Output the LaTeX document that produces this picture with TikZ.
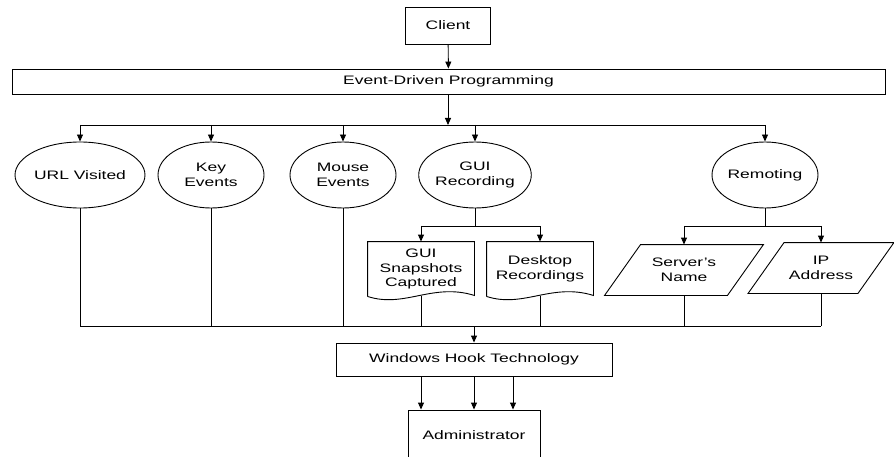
\documentclass[tikz,border=0pt]{standalone}
\usepackage{fontspec}
\setmainfont[FakeStretch=1.42]{Liberation Sans}
\usetikzlibrary{positioning}
\usetikzlibrary{shapes.geometric}
\usetikzlibrary{arrows.meta}

\begin{document}
\begin{tikzpicture}[x=1pt, y=-1pt, line width=0.9pt,
	every node/.style={font=\fontsize{12.3}{14.5}\selectfont, align=center, inner sep=0pt},
	box/.style={draw, rectangle},
	oval/.style={draw, ellipse, minimum width=106pt, minimum height=66pt},
	docu/.style={rectangle, minimum width=106pt, minimum height=54pt},
	para/.style={rectangle, minimum height=50pt},
	arr/.style={-{Triangle[length=7pt,width=6pt]}}]
	\useasboundingbox (0,0) rectangle (894,457);
	\node[box, minimum width=85pt, minimum height=37pt] (cl) at (448,25.5) {Client};
	\node[box, minimum width=873pt, minimum height=25pt] (ev) at (448.5,81.5) {Event-Driven Programming};
	\node[oval] (url) at (80,175) {URL Visited};
	\node[oval] (key) at (211,175) {Key\\Events};
	\node[oval] (mouse) at (343,175) {Mouse\\Events};
	\node[oval] (gui) at (475,175) {GUI\\Recording};
	\node[oval] (rem) at (765,175) {Remoting};
	\node[docu] (snap) at (421,269) {GUI\\Snapshots\\Captured};
	\node[docu] (desk) at (540,269) {Desktop\\Recordings};
	\node[para, minimum width=158pt] (srv) at (684,270) {Server’s\\Name};
	\node[para, minimum width=145pt] (ip) at (821,268) {IP\\Address};
	\node[box, minimum width=276pt, minimum height=33pt] (hook) at (474,359.5) {Windows Hook Technology};
	\node[box, minimum width=132pt, minimum height=50pt] (adm) at (474,435) {Administrator};
	\coordinate (top) at (448,125);
	\coordinate (bot) at (474,326);
	\coordinate (gj) at (475,226);
	\coordinate (rj) at (765,226);
	\foreach \d in {snap,desk}
		\draw (\d.south west) -- (\d.north west) -- (\d.north east) -- ([yshift=1pt]\d.south east) .. controls +(-42,-13) and +(37,12) .. (\d.south west);
	\foreach \p in {srv,ip}
		\draw (\p.south west) -- ([xshift=36pt]\p.north west) -- (\p.north east) -- ([xshift=-36pt]\p.south east) -- cycle;
	\draw[arr] (cl) -- (ev);
	\draw[arr] (ev.south -| top) -- (top);
	\draw (url.north |- top) -- (rem.north |- top);
	\foreach \e in {url,key,mouse,gui,rem}
		\draw[arr] (\e.north |- top) -- (\e.north);
	\draw (gui.south) -- (gj);
	\draw (snap.north |- gj) -- (desk.north |- gj);
	\draw[arr] (snap.north |- gj) -- (snap.north);
	\draw[arr] (desk.north |- gj) -- (desk.north);
	\draw (rem.south) -- (rj);
	\draw (srv.north |- rj) -- (ip.north |- rj);
	\draw[arr] (srv.north |- rj) -- (srv.north);
	\draw[arr] (ip.north |- rj) -- (ip.north);
	\foreach \e in {url,key,mouse,snap,desk,srv,ip}
		\draw (\e.south) -- (\e.south |- bot);
	\draw (url.south |- bot) -- (ip.south |- bot);
	\draw[arr] (bot) -- (hook.north -| bot);
	\foreach \s in {-53,0,39}
		\draw[arr] ([xshift=\s pt]hook.south) -- ([xshift=\s pt]adm.north);
\end{tikzpicture}
\end{document}
